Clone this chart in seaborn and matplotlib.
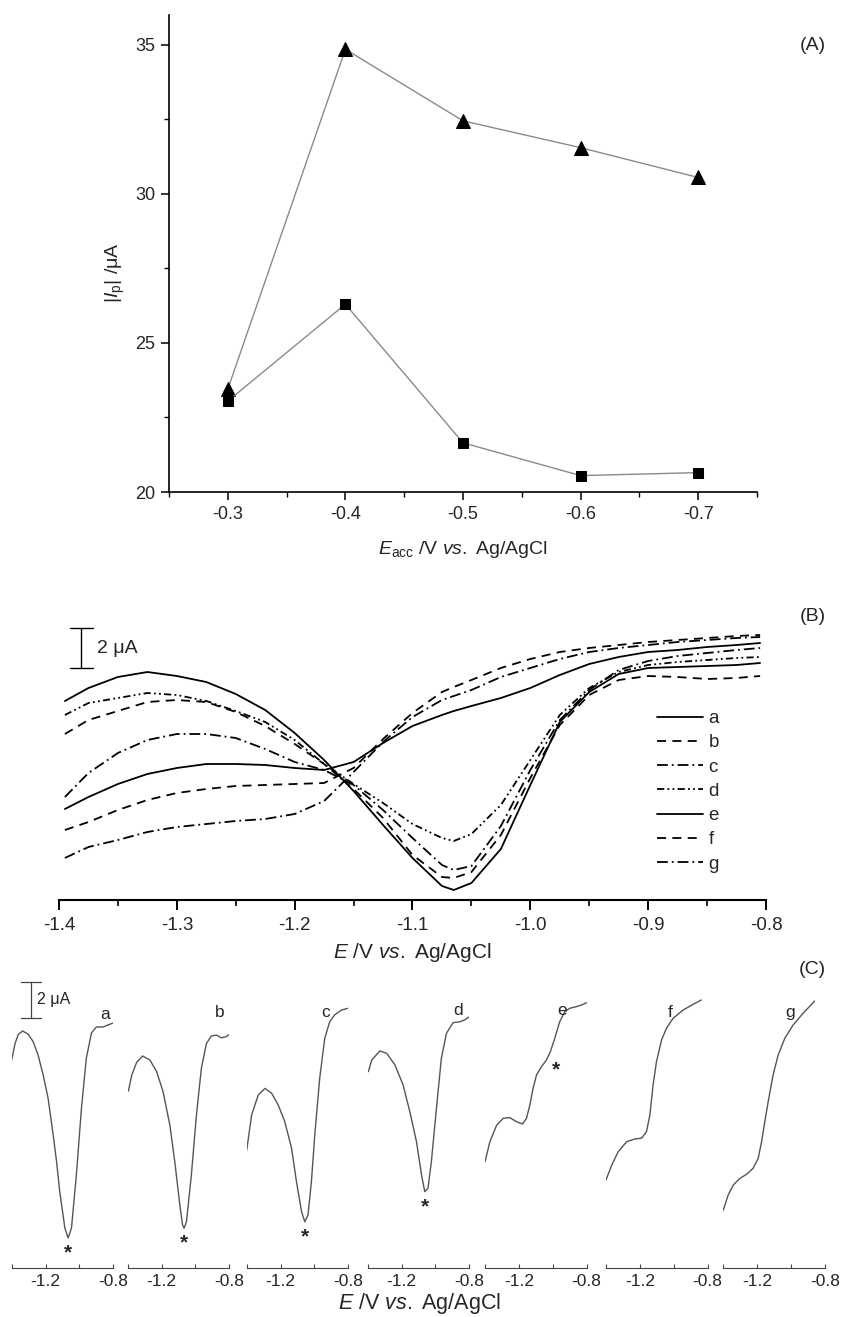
import numpy as np
import pandas as pd
import matplotlib
matplotlib.use("Agg")
import matplotlib.pyplot as plt
import seaborn as sns
from matplotlib.ticker import FixedLocator, FixedFormatter, MultipleLocator, FormatStrFormatter
from matplotlib.lines import Line2D

sns.set_theme(style="white")
plt.rcParams["font.family"] = ["Liberation Sans", "DejaVu Sans"]
plt.rcParams["mathtext.fontset"] = "custom"
plt.rcParams["mathtext.rm"] = "Liberation Sans"
plt.rcParams["mathtext.it"] = "Liberation Sans:italic"
plt.rcParams["mathtext.bf"] = "Liberation Sans:bold"
plt.rcParams["axes.unicode_minus"] = False

# ---------------- Panel A data ----------------
E_acc = [-0.3, -0.4, -0.5, -0.6, -0.7]
Ip_triangle = [23.45, 34.85, 32.45, 31.55, 30.55]
Ip_square = [23.05, 26.3, 21.65, 20.55, 20.65]

# ---------------- Panel B data (uA) ----------------
E_B = [-1.395, -1.375, -1.35, -1.325, -1.30, -1.275, -1.25, -1.225, -1.20, -1.175,
       -1.15, -1.125, -1.10, -1.075, -1.065, -1.05, -1.025, -1.00, -0.975, -0.95,
       -0.925, -0.90, -0.875, -0.85, -0.825, -0.805]
B_a = [9.95, 10.6, 11.15, 11.4, 11.2, 10.9, 10.3, 9.5, 8.35, 7.0, 5.45, 3.75, 2.1, 0.7,
       0.5, 0.85, 2.55, 5.75, 8.9, 10.4, 11.3, 11.6, 11.65, 11.7, 11.75, 11.85]
B_b = [8.3, 9.0, 9.45, 9.9, 10.0, 9.9, 9.4, 8.7, 7.8, 6.8, 5.55, 4.1, 2.25, 1.15,
       1.1, 1.4, 3.25, 6.1, 8.75, 10.25, 11.0, 11.2, 11.15, 11.05, 11.1, 11.2]
B_c = [5.15, 6.35, 7.35, 8.0, 8.3, 8.3, 8.1, 7.55, 6.9, 6.5, 5.75, 4.5, 3.1, 1.75,
       1.5, 1.7, 3.7, 6.5, 9.0, 10.5, 11.5, 11.95, 12.2, 12.35, 12.5, 12.6]
B_d = [9.25, 9.85, 10.1, 10.35, 10.25, 9.95, 9.45, 8.9, 8.0, 6.8, 5.8, 4.85, 3.8, 3.1,
       2.95, 3.3, 4.75, 7.0, 9.25, 10.6, 11.4, 11.75, 11.9, 12.0, 12.1, 12.15]
B_e = [4.55, 5.15, 5.8, 6.3, 6.6, 6.8, 6.8, 6.75, 6.6, 6.5, 6.9, 7.85, 8.7, 9.25,
       9.45, 9.7, 10.1, 10.6, 11.25, 11.8, 12.15, 12.4, 12.5, 12.65, 12.75, 12.85]
B_f = [3.5, 3.9, 4.5, 5.0, 5.35, 5.55, 5.7, 5.75, 5.8, 5.85, 6.6, 8.05, 9.35, 10.4,
       10.65, 11.0, 11.6, 12.05, 12.4, 12.6, 12.75, 12.9, 13.0, 13.1, 13.2, 13.25]
B_g = [2.1, 2.65, 3.0, 3.4, 3.65, 3.8, 3.95, 4.05, 4.3, 4.95, 6.4, 7.9, 9.15, 10.0,
       10.2, 10.5, 11.15, 11.6, 12.05, 12.4, 12.6, 12.75, 12.9, 13.0, 13.1, 13.15]
B_labels = ["a", "b", "c", "d", "e", "f", "g"]

# ---------------- Panel C data (uA) ----------------
C_a_E = [-1.4, -1.38, -1.361, -1.335, -1.302, -1.273, -1.244, -1.214, -1.185, -1.155, -1.135, -1.116,
         -1.086, -1.067, -1.047, -1.018, -0.988, -0.959, -0.929, -0.9, -0.861, -0.832, -0.802]
C_a_I = [11.56, 12.48, 12.98, 13.17, 12.98, 12.57, 11.83, 10.72, 9.43, 7.39, 5.91, 4.22,
         2.22, 1.67, 2.22, 5.17, 8.89, 11.67, 13.06, 13.39, 13.39, 13.5, 13.61]
C_b_E = [-1.396, -1.376, -1.347, -1.312, -1.269, -1.229, -1.191, -1.151, -1.122, -1.092, -1.076,
         -1.067, -1.053, -1.024, -0.994, -0.965, -0.935, -0.906, -0.876, -0.847, -0.818, -0.8]
C_b_I = [9.83, 10.72, 11.43, 11.78, 11.56, 10.91, 9.79, 7.94, 5.91, 3.5, 2.39,
         2.21, 2.57, 5.17, 8.5, 11.09, 12.48, 12.89, 12.94, 12.79, 12.85, 12.98]
C_c_E = [-1.4, -1.371, -1.332, -1.292, -1.253, -1.214, -1.175, -1.135, -1.106, -1.076,
         -1.057, -1.038, -1.018, -0.998, -0.969, -0.939, -0.91, -0.881, -0.841, -0.802]
C_c_I = [6.54, 8.5, 9.61, 9.98, 9.71, 9.06, 8.13, 6.65, 4.79, 3.13,
         2.57, 2.94, 4.79, 7.39, 10.54, 12.76, 13.68, 14.06, 14.33, 14.43]
C_d_E = [-1.396, -1.376, -1.328, -1.288, -1.239, -1.191, -1.151, -1.112, -1.082, -1.063,
         -1.044, -1.024, -0.994, -0.965, -0.935, -0.896, -0.857, -0.828, -0.8]
C_d_I = [10.91, 11.56, 12.06, 11.93, 11.28, 10.17, 8.68, 7.02, 5.17, 4.24,
         4.43, 5.91, 8.87, 11.65, 13.04, 13.63, 13.68, 13.78, 13.96]
C_e_E = [-1.4, -1.371, -1.331, -1.292, -1.253, -1.214, -1.178, -1.155, -1.135, -1.116, -1.096,
         -1.067, -1.037, -1.014, -0.988, -0.959, -0.929, -0.9, -0.861, -0.831, -0.8]
C_e_I = [5.91, 7.02, 7.94, 8.32, 8.35, 8.13, 8.0, 8.32, 9.06, 9.98, 10.72,
         11.18, 11.56, 12.02, 12.76, 13.68, 14.24, 14.43, 14.52, 14.61, 14.74]
C_f_E = [-1.4, -1.366, -1.328, -1.278, -1.229, -1.19, -1.161, -1.141, -1.122, -1.102,
         -1.072, -1.043, -1.004, -0.945, -0.886, -0.837]
C_f_I = [4.89, 5.72, 6.46, 7.02, 7.17, 7.21, 7.57, 8.5, 10.17, 11.46,
         12.67, 13.32, 13.87, 14.33, 14.65, 14.89]
C_g_E = [-1.4, -1.371, -1.341, -1.302, -1.262, -1.224, -1.194, -1.174, -1.155, -1.135,
         -1.106, -1.076, -1.037, -0.988, -0.929, -0.861]
C_g_I = [3.22, 4.06, 4.61, 4.98, 5.21, 5.54, 6.09, 7.02, 8.13, 9.24,
         10.72, 11.83, 12.76, 13.5, 14.15, 14.83]
C_ticks = [-1.4, -1.2, -1.0, -0.8]
C_ticklabels = ["", "-1.2", "", "-0.8"]
SCALE_uA = 2.0

# ---------------- layout helpers ----------------
W, H = 843, 1317
fig = plt.figure(figsize=(W / 100, H / 100), dpi=100)
fig.patch.set_facecolor("white")


def add_ax(l, t, r, b):
    return fig.add_axes([l / W, 1 - b / H, (r - l) / W, (b - t) / H])


def ftext(x, y, s, **kw):
    fig.text(x / W, 1 - y / H, s, **kw)


# ================= Panel A =================
axA = add_ax(169, 15, 757, 492)
dfA = pd.DataFrame({"E": E_acc * 2,
                    "Ip": Ip_triangle + Ip_square,
                    "s": ["tri"] * 5 + ["sq"] * 5})
sns.lineplot(data=dfA[dfA.s == "tri"], x="E", y="Ip", ax=axA, color="#8a8a8a", lw=1.0,
             marker="^", markersize=10, markerfacecolor="black", markeredgecolor="black",
             sort=False, estimator=None)
sns.lineplot(data=dfA[dfA.s == "sq"], x="E", y="Ip", ax=axA, color="#8a8a8a", lw=1.0,
             marker="s", markersize=7.5, markerfacecolor="black", markeredgecolor="black",
             sort=False, estimator=None)
axA.set_xlim(-0.25, -0.75)
axA.set_ylim(20, 36)
for s in ["top", "right"]:
    axA.spines[s].set_visible(False)
for s in ["left", "bottom"]:
    axA.spines[s].set_color("black")
    axA.spines[s].set_linewidth(1.2)
axA.xaxis.set_major_locator(FixedLocator([-0.3, -0.4, -0.5, -0.6, -0.7]))
axA.xaxis.set_minor_locator(FixedLocator([-0.25, -0.35, -0.45, -0.55, -0.65, -0.75]))
axA.xaxis.set_major_formatter(FormatStrFormatter("%.1f"))
axA.yaxis.set_major_locator(FixedLocator([20, 25, 30, 35]))
axA.yaxis.set_minor_locator(FixedLocator([22.5, 27.5, 32.5]))
axA.tick_params(which="major", direction="out", length=6, width=1.1, color="black",
                labelsize=13, pad=4, bottom=True, left=True)
axA.tick_params(which="minor", direction="out", length=3.5, width=1.0, color="black",
                bottom=True, left=True)
axA.set_xlabel("")
axA.set_ylabel("")
ftext(115, 273, r"$|I_{\mathrm{p}}|$ /μA", rotation=90, ha="center", va="center", fontsize=14)
ftext(463, 550, r"$E_{\mathrm{acc}}$ /V $\mathit{vs.}$ Ag/AgCl", ha="center", va="center", fontsize=14)
ftext(826, 45, "(A)", ha="right", va="center", fontsize=14)

# ================= Panel B =================
axB = add_ax(59, 620, 766, 900)
B_series = [B_a, B_b, B_c, B_d, B_e, B_f, B_g]
B_styles = ["-", (0, (5, 3.5)), (0, (6, 2.2, 1, 2.2)), (0, (4, 1.8, 1, 1.8, 1, 1.8)),
            "-", (0, (5, 3.5)), (0, (6, 2.2, 1, 2.2))]
handles = []
for lab, ys, ls in zip(B_labels, B_series, B_styles):
    sns.lineplot(x=E_B, y=ys, ax=axB, color="black", lw=1.3, linestyle=ls,
                 sort=False, estimator=None)
    handles.append(Line2D([], [], color="black", lw=1.3, linestyle=ls))
axB.set_xlim(-1.4, -0.8)
axB.set_ylim(0, 14)
for s in ["top", "right", "left"]:
    axB.spines[s].set_visible(False)
axB.spines["bottom"].set_color("black")
axB.spines["bottom"].set_linewidth(1.5)
axB.xaxis.set_major_locator(MultipleLocator(0.1))
axB.xaxis.set_minor_locator(MultipleLocator(0.05))
axB.xaxis.set_major_formatter(FormatStrFormatter("%.1f"))
axB.set_yticks([])
axB.tick_params(axis="x", which="major", direction="out", length=7, width=1.4,
                color="black", labelsize=13.5, pad=5, bottom=True)
axB.tick_params(axis="x", which="minor", direction="out", length=4.5, width=1.2,
                color="black", bottom=True)
axB.set_xlabel("")
axB.set_ylabel("")
leg = axB.legend(handles, B_labels, loc="upper left",
                 bbox_to_anchor=((657 - 59) / 707, (900 - 710) / 280),
                 frameon=False, fontsize=13.5, handlelength=2.45, handletextpad=0.3,
                 labelspacing=0.38, borderpad=0, borderaxespad=0)
# 2 uA scale bar
sb_x, sb_top = -1.381, 13.6
axB.plot([sb_x, sb_x], [sb_top, sb_top - SCALE_uA], color="black", lw=1.0)
axB.plot([sb_x - 0.01, sb_x + 0.01], [sb_top, sb_top], color="black", lw=1.0)
axB.plot([sb_x - 0.01, sb_x + 0.01], [sb_top - SCALE_uA] * 2, color="black", lw=1.0)
axB.text(sb_x + 0.013, sb_top - SCALE_uA / 2, "2 μA", ha="left", va="center", fontsize=14)
ftext(412, 953, r"$E$ /V $\mathit{vs.}$ Ag/AgCl", ha="center", va="center", fontsize=15)
ftext(826, 617, "(B)", ha="right", va="center", fontsize=14)

# ================= Panel C =================
C_E = [C_a_E, C_b_E, C_c_E, C_d_E, C_e_E, C_f_E, C_g_E]
C_I = [C_a_I, C_b_I, C_c_I, C_d_I, C_e_I, C_f_I, C_g_I]
C_left = [11.7, 127.7, 246.7, 367.7, 485, 606, 723.3]
C_label_pos = [(-0.851, 14.11), (-0.857, 14.22), (-0.934, 14.17), (-0.869, 14.33),
               (-0.947, 14.28), (-1.018, 14.17), (-1.008, 14.17)]
axesC = []
for i, (ex, iy) in enumerate(zip(C_E, C_I)):
    ax = add_ax(C_left[i], 975, C_left[i] + 101.6, 1268)
    axesC.append(ax)
    sns.lineplot(x=ex, y=iy, ax=ax, color="#555555", lw=1.0, sort=False, estimator=None)
    ax.set_xlim(-1.4, -0.8)
    ax.set_ylim(0, 16.28)
    for s in ["top", "right", "left"]:
        ax.spines[s].set_visible(False)
    ax.spines["bottom"].set_color("#444444")
    ax.spines["bottom"].set_linewidth(0.8)
    ax.xaxis.set_major_locator(FixedLocator(C_ticks))
    ax.xaxis.set_major_formatter(FixedFormatter(C_ticklabels))
    ax.set_yticks([])
    ax.tick_params(axis="x", direction="in", length=3, width=0.8, color="#444444",
                   labelsize=12.5, pad=4, bottom=True)
    ax.set_xlabel("")
    ax.set_ylabel("")
    ax.text(*C_label_pos[i], B_labels[i], ha="center", va="center", fontsize=12.5)
    if i < 4:
        k = int(np.argmin(iy))
        ax.text(ex[k], iy[k] - 0.3, "*", ha="center", va="top", fontsize=15, fontweight="bold")
    if i == 4:
        ax.annotate("*", xy=(ex[12], iy[12]), xytext=(4, 0), textcoords="offset points",
                    ha="left", va="top", fontsize=15, fontweight="bold")

axC0 = axesC[0]
cb_x, cb_top = -1.286, 15.9
axC0.plot([cb_x, cb_x], [cb_top, cb_top - SCALE_uA], color="#444444", lw=0.9, clip_on=False)
axC0.plot([cb_x - 0.058, cb_x + 0.058], [cb_top, cb_top], color="#444444", lw=0.9, clip_on=False)
axC0.plot([cb_x - 0.058, cb_x + 0.058], [cb_top - SCALE_uA] * 2, color="#444444", lw=0.9, clip_on=False)
axC0.text(cb_x + 0.035, cb_top - SCALE_uA / 2, "2 μA", ha="left", va="center", fontsize=11.5)

ftext(420, 1303, r"$E$ /V $\mathit{vs.}$ Ag/AgCl", ha="center", va="center", fontsize=15.5)
ftext(826, 970, "(C)", ha="right", va="center", fontsize=14)

fig.savefig("out.png", dpi=100, facecolor="white")
